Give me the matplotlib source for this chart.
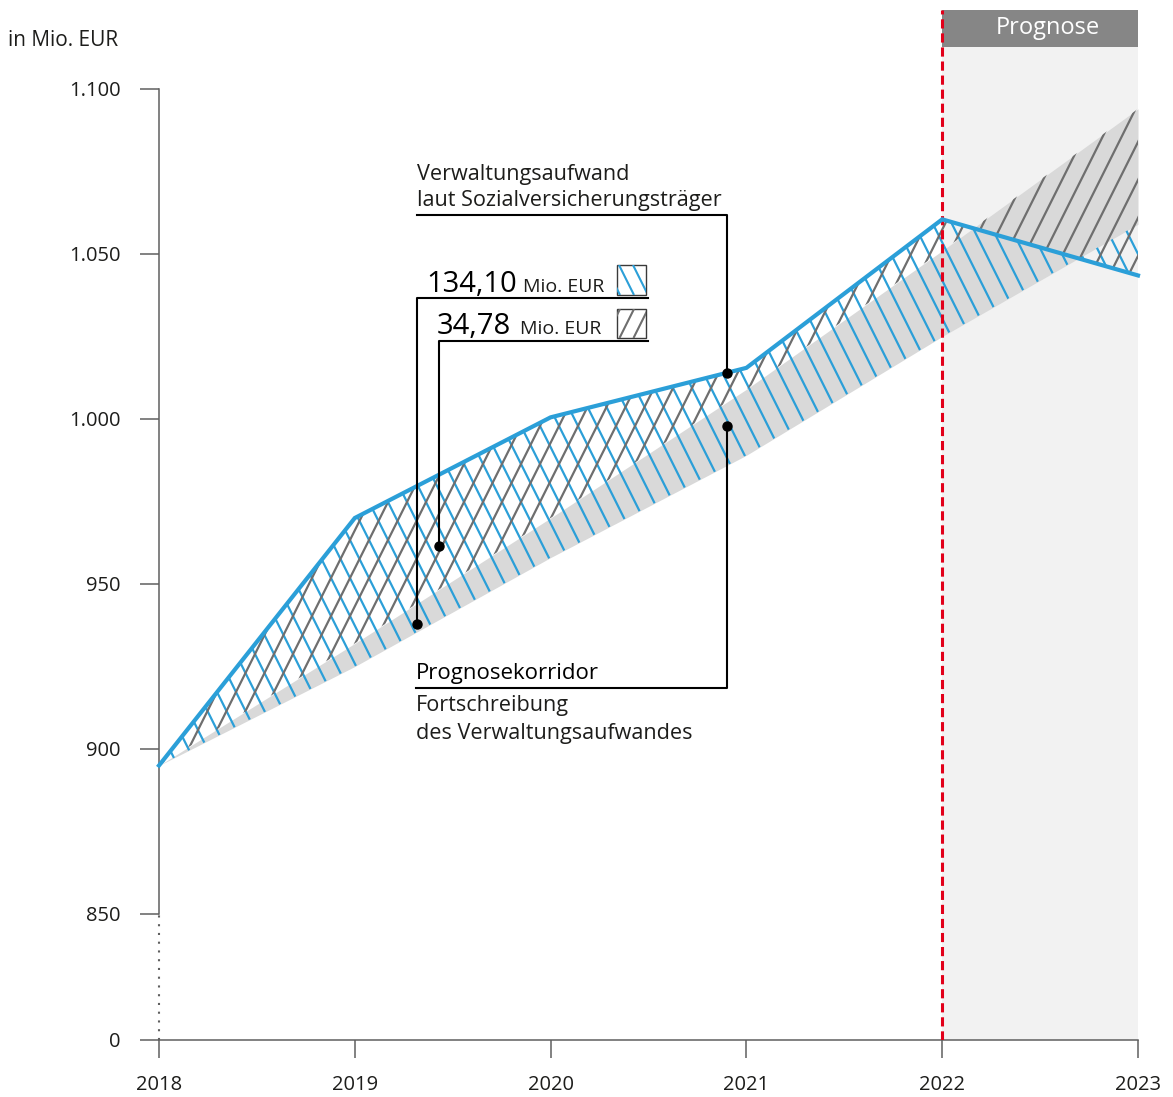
import numpy as np
import matplotlib
matplotlib.use("Agg")
import matplotlib.pyplot as plt
import matplotlib.transforms as mtransforms
from matplotlib.collections import LineCollection
from matplotlib.lines import Line2D
from matplotlib.patches import Rectangle

plt.rcParams["font.family"] = ["Open Sans", "DejaVu Sans"]

# --- data (Mio. EUR) ---
years = [2018, 2019, 2020, 2021, 2022, 2023]
year_labels = ["2018", "2019", "2020", "2021", "2022", "2023"]
svt_aufwand = [895.0, 970.0, 1000.5, 1015.5, 1060.5, 1043.5]   # laut Sozialversicherungsträger
korridor_unten = [895.0, 925.0, 958.0, 989.0, 1025.0, 1059.0]  # Fortschreibung, untere Grenze
korridor_oben = [895.0, 932.0, 970.0, 1009.0, 1051.0, 1094.0]  # Fortschreibung, obere Grenze
y_ticks = [850, 900, 950, 1000, 1050, 1100]
y_tick_labels = ["850", "900", "950", "1.000", "1.050", "1.100"]
wert_blau = "134,10"
wert_grau = "34,78"
prognose_start = 2022

# --- colours ---
BLUE = "#2b9fd8"
HATCH_GREY = "#6e6e6e"
BAND = "#d9d9d9"
SHADE = "#f2f2f2"
HEADER = "#868686"
RED = "#e2001a"
AXIS = "#5f5f5f"
TEXT = "#1d1d1b"

FIG_W, FIG_H = 1173, 1097
PX_PER_UNIT = 3.3  # 50 Mio. EUR = 165 px

fig = plt.figure(figsize=(FIG_W / 100, FIG_H / 100), dpi=100)
ax = fig.add_axes([159 / FIG_W, 57 / FIG_H, 979 / FIG_W, 1030 / FIG_H])

# broken axis: "0" sits 126 px below 850
y_bottom = 850 - 126 / PX_PER_UNIT
y_top = y_bottom + 1030 / PX_PER_UNIT

# pixel coords measured from the top-left corner of the figure
top_px = mtransforms.Affine2D().scale(1 / FIG_W, -1 / FIG_H).translate(0, 1) + fig.transFigure


def data_to_px(x, y):
    dx, dy = ax.transData.transform((x, y))
    return dx, FIG_H - dy


def hatch_lines(x0, y0, x1, y1, direction, spacing=19.0, slope=2.0, phase=0.0):
    """Parallel hatch segments covering a pixel box (top-down pixel coords)"""
    reach = (y1 - y0) / slope
    starts = np.arange(x0 - reach + phase, x1 + reach, spacing)
    if direction == "\\":
        return [[(c, y0), (c + reach, y1)] for c in starts]
    return [[(c + reach, y0), (c, y1)] for c in starts]


# --- background: forecast area ---
ax.axvspan(prognose_start, years[-1], color=SHADE, lw=0, zorder=0)
ax.axvspan(prognose_start, years[-1], ymin=1 - 37 / 1030, ymax=1, color=HEADER, lw=0, zorder=1)
ax.text(prognose_start + 0.54, 1 - 18.5 / 1030, "Prognose", transform=ax.get_xaxis_transform(),
        ha="center", va="center", color="white", fontsize=17, zorder=2)

# corridor band
ax.fill_between(years, korridor_unten, korridor_oben, color=BAND, lw=0, zorder=1)

ax.set_xlim(years[0], years[-1])
ax.set_ylim(y_bottom, y_top)

# hatching, clipped to the areas between the blue line and the corridor limits
area_blau = ax.fill_between(years, svt_aufwand, korridor_unten, facecolor="none", edgecolor="none")
area_grau = ax.fill_between(years, svt_aufwand, korridor_oben, facecolor="none", edgecolor="none")
for area, direction, color, phase in [(area_blau, "\\", BLUE, 4.0), (area_grau, "/", HATCH_GREY, 0.0)]:
    segs = hatch_lines(159, 10, 1138, 1040, direction, phase=phase)
    lc = LineCollection(segs, colors=color, linewidths=1.6, transform=top_px, zorder=2, capstyle="butt")
    lc.set_clip_path(area.get_paths()[0], ax.transData)
    ax.add_collection(lc, autolim=False)

ax.axvline(prognose_start, color=RED, lw=2.2, ls=(0, (3, 1.6)), zorder=3)

ax.plot(years, svt_aufwand, color=BLUE, lw=3, zorder=4, solid_joinstyle="miter", clip_on=False)

# --- axes ---
for side in ["top", "right"]:
    ax.spines[side].set_visible(False)
for side in ["left", "bottom"]:
    ax.spines[side].set_color(AXIS)
    ax.spines[side].set_linewidth(1.1)
ax.spines["left"].set_bounds(850, 1100)
ax.plot([years[0], years[0]], [y_bottom, 850], color=AXIS, lw=1.5, ls=(0, (1, 3.2)), clip_on=False, zorder=5)

ax.set_yticks([y_bottom] + y_ticks, ["0"] + y_tick_labels)
ax.set_xticks(years, year_labels)
ax.tick_params(axis="y", length=13.7, width=1.1, color=AXIS, pad=14, labelsize=14.5, labelcolor=TEXT)
ax.tick_params(axis="x", length=13, width=1.1, color=AXIS, pad=12, labelsize=14.5, labelcolor=TEXT)

fig.text(8 / FIG_W, 1 - 40 / FIG_H, "in Mio. EUR", ha="left", va="center", fontsize=15, color=TEXT)

# --- annotations ---
def leader(points, **kw):
    xs, ys = zip(*points)
    fig.add_artist(Line2D(xs, ys, transform=top_px, color="black", lw=1.5, **kw))


def dot(x, y):
    fig.add_artist(Line2D([x], [y], transform=top_px, marker="o", ms=6.5, color="black", lw=0))


# Verwaltungsaufwand laut SVT
x_svt = 2020.9
p_svt = data_to_px(x_svt, np.interp(x_svt, years, svt_aufwand))
fig.text(417 / FIG_W, 1 - 180 / FIG_H, "Verwaltungsaufwand", fontsize=15.6, color=TEXT, va="baseline")
fig.text(417 / FIG_W, 1 - 206 / FIG_H, "laut Sozialversicherungsträger", fontsize=15.6, color=TEXT, va="baseline")
leader([(417, 215), (p_svt[0], 215), p_svt])
dot(*p_svt)

# 134,10 Mio. EUR (blue hatch)
p_blau = data_to_px(2019.32, 938)
fig.text(426 / FIG_W, 1 - 292 / FIG_H, wert_blau, fontsize=21, color="black", va="baseline")
fig.text(523 / FIG_W, 1 - 292 / FIG_H, "Mio. EUR", fontsize=14, color=TEXT, va="baseline")
leader([(648, 297.5), (p_blau[0], 297.5), p_blau])
dot(*p_blau)

# 34,78 Mio. EUR (grey hatch)
p_grau = data_to_px(2019.43, 961.5)
fig.text(437 / FIG_W, 1 - 334 / FIG_H, wert_grau, fontsize=21, color="black", va="baseline")
fig.text(520 / FIG_W, 1 - 334 / FIG_H, "Mio. EUR", fontsize=14, color=TEXT, va="baseline")
leader([(648, 341), (p_grau[0], 341), p_grau])
dot(*p_grau)

# legend swatches
for (y0, y1), direction, color in [((265, 295), "\\", BLUE), ((309, 338), "/", HATCH_GREY)]:
    box = Rectangle((617, y0), 29, y1 - y0, transform=top_px, fill=False, edgecolor="#3a3a3a", lw=1.0)
    fig.add_artist(box)
    lc = LineCollection(hatch_lines(617, y0, 646, y1, direction, spacing=14, phase=3),
                        colors=color, linewidths=1.5, transform=top_px, capstyle="butt")
    lc.set_clip_path(box)
    fig.add_artist(lc)

# Prognosekorridor
p_korr = data_to_px(x_svt, 998)
fig.text(416 / FIG_W, 1 - 679 / FIG_H, "Prognosekorridor", fontsize=16, color="black", va="baseline")
fig.text(416 / FIG_W, 1 - 711 / FIG_H, "Fortschreibung", fontsize=15.6, color=TEXT, va="baseline")
fig.text(416 / FIG_W, 1 - 739 / FIG_H, "des Verwaltungsaufwandes", fontsize=15.6, color=TEXT, va="baseline")
leader([(416, 687.5), (p_korr[0], 687.5), p_korr])
dot(*p_korr)

fig.savefig("out.png", dpi=100)
